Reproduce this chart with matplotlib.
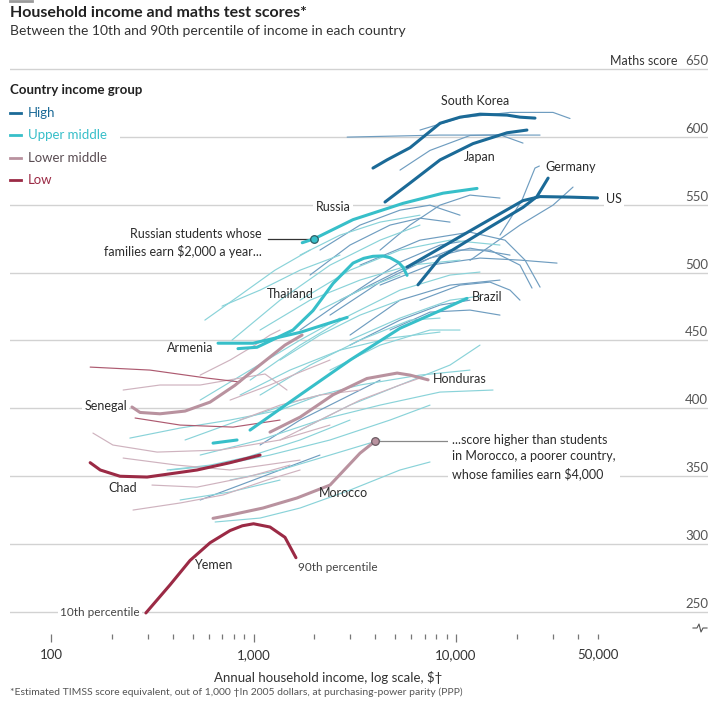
import matplotlib.pyplot as plt
import matplotlib.ticker as mticker
import matplotlib.transforms as mtransforms
from matplotlib.lines import Line2D
from matplotlib.patches import Rectangle

plt.rcParams['font.family'] = ['Lato', 'DejaVu Sans']

# highlighted countries, (annual household income $, maths score)
south_korea = [(3890, 577), (4560, 583), (5930, 592), (8340, 610), (10470, 614.5),
               (13150, 616.7), (17880, 616), (20700, 614.5), (24550, 613.8)]
japan = [(4460, 552), (5930, 566), (8340, 583), (12130, 595), (17880, 603), (22400, 605)]
germany = [(6490, 491), (8340, 511), (14700, 533.5), (21400, 548), (25100, 556), (28500, 569.6)]
us = [(5730, 504), (8340, 518), (13150, 535), (21400, 553), (26000, 556), (36600, 555.6), (50000, 555)]
russia = [(1740, 522), (2000, 525), (3100, 539), (5470, 551), (8630, 558.5), (12700, 562)]
thailand = [(838, 444), (1040, 445), (1566, 457.7), (1967, 472), (2470, 492), (3100, 507),
            (3500, 510.5), (3890, 512), (4350, 512.3), (4720, 511), (5200, 507.5), (5470, 504), (5730, 498)]
armenia = [(668, 448), (995, 448), (1700, 456), (2900, 467)]
brazil = [(961, 384), (1700, 410), (3000, 435.6), (5290, 459), (8340, 472), (11330, 481)]
upper_short = [(631, 374.4), (829, 376.7)]
senegal = [(251, 401), (275, 397), (345, 396), (459, 398), (610, 404.6), (810, 417),
           (1077, 432), (1430, 446.6), (1737, 454)]
honduras = [(1206, 382.5), (1700, 393.6), (2470, 410), (3630, 422), (5120, 426), (5930, 424.5), (7280, 421)]
morocco = [(631, 319), (766, 321.4), (1114, 326.6), (1640, 334), (2387, 343.5), (3357, 367), (4000, 376)]
chad = [(156, 360), (175, 354.6), (219, 350), (298, 349.4), (526, 354.6), (766, 360), (1077, 365.6)]
yemen = [(294, 249.3), (387, 270), (486, 288), (610, 301), (766, 310), (880, 313.5), (1000, 315),
         (1206, 312.6), (1430, 305), (1620, 290)]

# the other countries, thin lines
high_thin = [
    [(2900, 599.8), (8300, 601.3), (26000, 601.3)],
    [(6640, 605), (10470, 614), (18480, 618), (30140, 618), (36560, 613.5)],
    [(5290, 575.5), (7440, 590), (11720, 601), (16490, 601.5), (21420, 595.4)],
    [(16490, 527.6), (21180, 553.4), (24550, 577), (25800, 578.5)],
    [(11720, 509), (20700, 535), (30140, 549.7), (37840, 563)],
    [(3357, 505.5), (6640, 523.9), (11720, 529.8), (17460, 523.9), (21920, 509.2), (26010, 489.3)],
    [(4217, 490.8), (7441, 505.5), (13135, 510.7), (20700, 509.2), (31540, 507)],
    [(2673, 479.7), (5288, 501.8), (9340, 516.6), (14718, 516.6), (20700, 505.5), (23730, 488.6)],
    [(1698, 457.7), (2996, 483.4), (5288, 507.7), (8337, 520.3), (11722, 523.9)],
    [(2386, 468.7), (4217, 493), (7441, 510.7), (11722, 518), (18480, 512.9)],
    [(2129, 516.6), (3357, 535), (5288, 546), (7441, 549.7), (10465, 542.3)],
    [(2996, 454), (5288, 479.7), (9340, 490.8), (16487, 494.5)],
    [(4217, 516.6), (5925, 535), (8337, 549.7), (11722, 557.1), (16487, 554.9)],
    [(1901, 498.2), (2996, 520.3), (4722, 535), (6638, 540.1), (9340, 537.2)],
    [(2996, 446.6), (5288, 465), (8337, 476.1), (11722, 479.7)],
    [(4722, 457.7), (7441, 470.9), (11722, 472.4), (16487, 468.7)],
    [(545, 332.5), (858, 343.5), (1352, 354.6), (2129, 365.6)],
    [(1077, 373), (1698, 391.4), (2673, 406.1), (4217, 420.8)],
    [(6638, 479.7), (10465, 490.8), (14718, 493), (18480, 487.1), (20700, 479.7)],
]
upper_thin = [
    [(699, 475.3), (1077, 487.1), (1698, 501.8), (2673, 512.9)],
    [(783, 450.3), (1352, 479.7), (2386, 505.5), (4217, 523.9), (6638, 535)],
    [(962, 420.8), (1698, 446.6), (2996, 468.7), (5288, 487.1), (9340, 498.2), (13135, 500.4)],
    [(545, 406.1), (962, 428.2), (1698, 450.3), (2673, 466.5)],
    [(459, 376.7), (858, 391.4), (1698, 406.1), (3357, 417.2), (6638, 424.5), (11722, 428.2)],
    [(545, 365.6), (1077, 376.7), (2129, 391.4), (4217, 402.4), (8337, 412), (15230, 413.5)],
    [(646, 316.3), (1077, 319.2), (1698, 326.6), (2996, 339.8), (5288, 354.6), (7441, 360.5)],
    [(387, 354.6), (684, 358.2), (1206, 365.6), (2386, 376.7), (4722, 391.4), (7441, 402.4)],
    [(245, 378.1), (434, 385.5), (766, 391.4), (1352, 398.7), (2129, 409.8)],
    [(374, 354.6), (610, 358.2), (929, 364.1), (1698, 376.7), (2996, 391.4)],
    [(1698, 479.7), (2996, 501.8), (5288, 516.6), (9340, 523.9), (16487, 520.3)],
    [(1077, 457.7), (1901, 479.7), (3357, 494.5), (5925, 505.5), (10465, 509.2)],
    [(2386, 428.2), (4217, 446.6), (7441, 457.7), (10465, 457.7)],
    [(1077, 409.8), (1901, 431.9), (3357, 450.3), (5925, 465), (8337, 466.5)],
    [(575, 465), (858, 483.4), (1276, 501.8), (1901, 516.6)],
    [(1698, 512.9), (2673, 527.6), (4217, 537.2), (6638, 542.3)],
    [(858, 409.8), (1514, 428.2), (2673, 442.9), (4722, 451.8), (8337, 456.2)],
    [(1698, 384), (2996, 402.4), (5288, 417.2), (9340, 431.9), (13135, 446.6)],
    [(766, 347.2), (1352, 354.6), (2386, 365.6), (4217, 376.7)],
    [(434, 332.5), (766, 338.4), (1352, 347.2)],
    [(1352, 435.6), (2129, 454), (3357, 468.7), (5288, 479.7)],
    [(2129, 472.4), (3357, 487.1), (5288, 498.2)],
    [(2996, 450.3), (5288, 466.5), (9340, 479.7), (13135, 482.7)],
]
lower_thin = [
    [(227, 413.5), (345, 417.2), (545, 417.2), (858, 422.3), (1140, 425.3), (1463, 413.5)],
    [(161, 381.8), (202, 373), (334, 367.8), (684, 369.3), (1352, 376.7), (2386, 387.7)],
    [(227, 363.4), (419, 358.2), (766, 354.6), (1698, 361.9)],
    [(315, 343.5), (526, 342), (929, 349.4), (1514, 358.2)],
    [(254, 325.1), (434, 330.3), (707, 336.2), (1166, 347.2), (1698, 354.6)],
    [(545, 424.5), (766, 435.6), (1017, 446.6), (1206, 454), (1352, 457.7)],
    [(1352, 376.7), (2129, 391.4), (3357, 406.1), (5288, 417.2), (6638, 422.3)],
    [(858, 391.4), (1352, 402.4), (2129, 409.8), (3357, 413.5)],
    [(766, 406.1), (1206, 417.2), (1698, 426.7), (2386, 435.6)],
]
low_thin = [
    [(156, 430.4), (308, 428.2), (589, 422.3), (858, 419.4)],
    [(260, 392.9), (434, 387.7), (792, 386.2), (1352, 391.4)],
]

groups = ['High', 'Upper middle', 'Lower middle', 'Low']
thick_colors = ['#1b6a97', '#37bfc9', '#b9929f', '#9b2a45']
thin_colors = ['#6f9dc0', '#8ad3d9', '#cfb3bf', '#ad5a70']
text_colors = ['#1b6a97', '#37bfc9', '#5a4d53', '#9b2a45']
y_ticks = [250, 300, 350, 400, 450, 500, 550, 600, 650]
x_major = [100, 1000, 10000]
x_minor = [200, 300, 400, 500, 600, 700, 800, 900, 2000, 3000, 4000, 5000,
           6000, 7000, 8000, 9000, 20000, 30000, 40000, 50000]

fig = plt.figure(figsize=(7.1, 7.04), dpi=100)
ax = fig.add_axes([10 / 710, 1 - 634 / 704, 698 / 710, 574 / 704])
ax.set_xscale('log')
ax.set_xlim(62.7, 175600)
ax.set_ylim(233.8, 656.6)
for s in ax.spines.values():
    s.set_visible(False)

# gridlines + labels on the right
yt = mtransforms.blended_transform_factory(ax.transAxes, ax.transData)
for v in y_ticks:
    ax.axhline(v, color='#d2d2d2', lw=1.0, zorder=0)
    ax.text(1.0, v + 1.5, str(v), transform=yt, ha='right', va='bottom', fontsize=9.5, color='#555555')
ax.text(0.957, 651.5, 'Maths score', transform=yt, ha='right', va='bottom', fontsize=9, color='#333333')
ax.set_yticks([])


def draw(pts, color, lw, z):
    xs = [p[0] for p in pts]
    ys = [p[1] for p in pts]
    ax.plot(xs, ys, color=color, lw=lw, zorder=z, solid_capstyle='round', solid_joinstyle='round')


for pts in high_thin:
    draw(pts, thin_colors[0], 0.85, 2)
for pts in upper_thin:
    draw(pts, thin_colors[1], 0.85, 2)
for pts in lower_thin:
    draw(pts, thin_colors[2], 0.85, 2)
for pts in low_thin:
    draw(pts, thin_colors[3], 0.85, 2)

for pts in [south_korea, japan, germany, us]:
    draw(pts, thick_colors[0], 2.2, 4)
for pts in [russia, thailand, armenia, brazil, upper_short]:
    draw(pts, thick_colors[1], 2.2, 4)
for pts in [senegal, honduras, morocco]:
    draw(pts, thick_colors[2], 2.2, 4)
for pts in [chad, yemen]:
    draw(pts, thick_colors[3], 2.2, 4)

# annotation dots and leaders
ax.plot([1180, 2000], [525, 525], color='#333333', lw=0.9, zorder=3)
ax.plot([2000], [525], 'o', ms=5.5, mfc=thick_colors[1], mec='#2f5f66', mew=0.9, zorder=5)
ax.plot([4000, 9030], [376, 376], color='#888888', lw=0.9, zorder=3)
ax.plot([4000], [376], 'o', ms=5.5, mfc=thick_colors[2], mec='#6b5a62', mew=0.9, zorder=5)

white = dict(facecolor='white', edgecolor='none', pad=1.5)
lab = dict(fontsize=9, color='#2b2b2b', va='center', zorder=6)
ax.text(12420, 626.3, 'South Korea', ha='center', **lab)
ax.text(13135, 585, 'Japan', ha='center', **lab)
ax.text(36980, 577.7, 'Germany', ha='center', **lab)
ax.text(55070, 554.1, 'US', ha='left', bbox=white, **lab)
ax.text(2470, 548.2, 'Russia', ha='center', bbox=white, **lab)
ax.text(1514, 484.2, 'Thailand', ha='center', **lab)
ax.text(11990, 482, 'Brazil', ha='left', **lab)
ax.text(631, 444.4, 'Armenia', ha='right', **lab)
ax.text(237, 401.7, 'Senegal', ha='right', bbox=white, **lab)
ax.text(7700, 421.6, 'Honduras', ha='left', **lab)
ax.text(227, 341.3, 'Chad', ha='center', **lab)
ax.text(2767, 337.6, 'Morocco', ha='center', **lab)
ax.text(631, 284.6, 'Yemen', ha='center', **lab)
ax.text(1660, 283.1, '90th percentile', ha='left', fontsize=8.5, color='#444444', va='center', zorder=6)
ax.text(275, 250, '10th percentile', ha='right', fontsize=8.5, color='#444444', va='center',
        bbox=white, zorder=6)
ax.text(1102, 521.7, 'Russian students whose\nfamilies earn $2,000 a year...', ha='right',
        linespacing=1.45, **lab)
ax.text(9550, 364.1, '...score higher than students\nin Morocco, a poorer country,\nwhose families earn $4,000',
        ha='left', linespacing=1.45, bbox=dict(facecolor='white', edgecolor='none', pad=3), **lab)

# x axis: ticks only
ax.set_xticks(x_major)
ax.set_xticks(x_minor, minor=True)
ax.xaxis.set_major_formatter(mticker.FixedFormatter(['100', '1,000', '10,000']))
ax.xaxis.set_minor_formatter(mticker.FixedFormatter(['50,000' if v == 50000 else '' for v in x_minor]))
ax.tick_params(axis='x', which='major', length=6, width=0.9, color='#777777', pad=5,
               labelsize=9.5, labelcolor='#333333')
ax.tick_params(axis='x', which='minor', length=3.5, width=0.9, color='#777777', pad=7,
               labelsize=9.5, labelcolor='#333333')

# axis break mark
fig.add_artist(Line2D([x / 710 for x in [693, 697, 699, 701, 703, 707]],
                      [1 - y / 704 for y in [628, 628, 624, 632, 628, 628]],
                      color='#555555', lw=0.8))

# titles, legend, notes
fig.add_artist(Line2D([10 / 710, 32 / 710], [1 - 1 / 704] * 2, color='#9a9a9a', lw=2))
fig.text(10 / 710, 1 - 13 / 704, 'Household income and maths test scores*', fontsize=11.5,
         fontweight='bold', color='#222222', va='center')
fig.text(10 / 710, 1 - 31 / 704, 'Between the 10th and 90th percentile of income in each country',
         fontsize=10, color='#333333', va='center')
fig.text(10 / 710, 1 - 90 / 704, 'Country income group', fontsize=9.5, fontweight='bold',
         color='#222222', va='center')
fig.add_artist(Rectangle((8 / 710, 1 - 147 / 704), 112 / 710, 22 / 704, transform=fig.transFigure,
                         facecolor='white', edgecolor='none', zorder=1))
for i, g in enumerate(groups):
    yy = 1 - (113 + 22.3 * i) / 704
    fig.add_artist(Line2D([10 / 710, 21 / 710], [yy, yy], color=thick_colors[i], lw=2, zorder=3))
    fig.text(28 / 710, yy, g, fontsize=9.5, color=text_colors[i], va='center', zorder=3)

fig.text(328 / 710, 1 - 677 / 704, 'Annual household income, log scale, $\u2020', fontsize=9.5,
         color='#333333', ha='center', va='center')
fig.text(10 / 710, 1 - 692 / 704,
         '*Estimated TIMSS score equivalent, out of 1,000 \u2020In 2005 dollars, at purchasing-power parity (PPP)',
         fontsize=7.5, color='#555555', va='center')

fig.savefig('out.png', dpi=100)
